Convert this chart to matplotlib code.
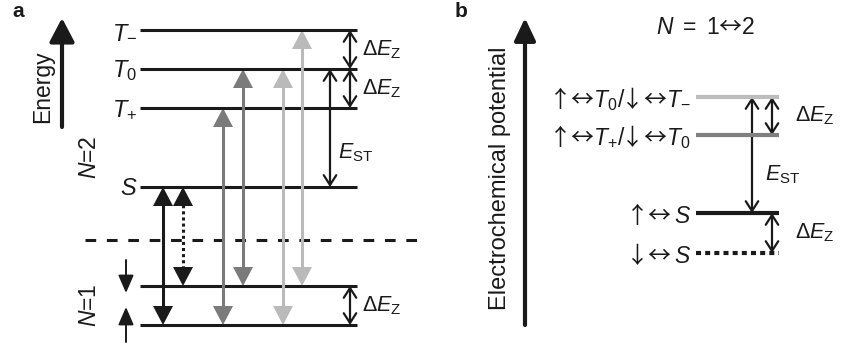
import matplotlib
matplotlib.use("Agg")
import matplotlib.pyplot as plt
from matplotlib.patches import FancyArrowPatch

plt.rcParams['font.family'] = ['Liberation Sans', 'DejaVu Sans']
plt.rcParams['mathtext.fontset'] = 'custom'
plt.rcParams['mathtext.rm'] = 'Liberation Sans'
plt.rcParams['mathtext.it'] = 'Liberation Sans:italic'
plt.rcParams['mathtext.bf'] = 'Liberation Sans:bold'
plt.rcParams['mathtext.sf'] = 'Noto Sans CJK JP'

# ---------------- data (energies, arbitrary units) ----------------
# panel a: N=1 spin states and N=2 two-electron states
n1_names = ['up', 'down']
n1_energy = [0, 39]
n2_names = ['S', 'T+', 'T0', 'T-']
n2_labels = [r'$S$', r'$T_{+}$', r'$T_{0}$', r'$T_{-}$']
n2_energy = [138, 217, 256, 295]
fermi_level = 85

# transitions (from N=2 state, to N=1 state, colour, style)
trans_from = ['S', 'S', 'T+', 'T0', 'T0', 'T-']
trans_to = ['up', 'down', 'up', 'down', 'up', 'down']
trans_color = ['#1a1a1a', '#1a1a1a', '#7b7b7b', '#7b7b7b', '#bababa', '#bababa']
trans_style = ['-', ':', '-', '-', '-', '-']

# panel b: electrochemical potentials for N = 1<->2
b_labels = [r'$\mathsf{↓↔}\,S$', r'$\mathsf{↑↔}\,S$',
            r'$\mathsf{↑↔}T_{+}\mathrm{/}\!\mathsf{↓↔}T_{0}$',
            r'$\mathsf{↑↔}T_{0}\mathrm{/}\!\mathsf{↓↔}T_{-}$']
b_energy = [72, 112, 190, 228]
b_color = ['#1a1a1a', '#1a1a1a', '#808080', '#bdbdbd']
b_style = ['dotted', '-', '-', '-']

E1 = dict(zip(n1_names, n1_energy))
E2 = dict(zip(n2_names, n2_energy))

fig = plt.figure(figsize=(8.44, 3.47), dpi=100)
ax = fig.add_axes([0, 0, 1, 1])
ax.set_xlim(0, 844)
ax.set_ylim(-22, 325)
ax.axis('off')

K = '#1a1a1a'


def filled_double(x, y0, y1, color, ls='-', hl=19, hw=10, lw=2.2):
    lo, hi = min(y0, y1), max(y0, y1)
    ax.plot([x, x], [lo + hl * 0.6, hi - hl * 0.6], color=color, lw=lw,
            ls=ls if ls == '-' else (0, (1, 1)), solid_capstyle='butt',
            dash_capstyle='butt')
    for a, b in ((lo, hi), (hi, lo)):
        ax.add_patch(FancyArrowPatch((x, a), (x, b),
                                     arrowstyle=f'-|>,head_length={hl/1.389:.2f},head_width={hw/1.389:.2f}',
                                     lw=0, color=color, shrinkA=0, shrinkB=0,
                                     mutation_scale=1))


def open_double(x, y0, y1, lw=1.6):
    ax.add_patch(FancyArrowPatch((x, y0), (x, y1),
                                 arrowstyle='<->,head_length=7,head_width=4.5',
                                 lw=lw, color=K, shrinkA=0, shrinkB=0,
                                 mutation_scale=1))


def up_arrow(x, y0, y1, lw, hl, hw):
    ax.add_patch(FancyArrowPatch((x, y0), (x, y1),
                                 arrowstyle=f'-|>,head_length={hl/1.389:.2f},head_width={hw/1.389:.2f}',
                                 lw=lw, color=K, shrinkA=0, shrinkB=0,
                                 mutation_scale=1))


# ---------------- panel a ----------------
ax.text(12, 314, 'a', fontsize=15, fontweight='bold', ha='left', va='center', color=K)
up_arrow(62, 198, 307, 3.0, 20, 10.5)
ax.text(43, 238, 'Energy', rotation=90, fontsize=16.5, ha='center', va='center', color=K)

xa0, xa1 = 140, 357
for name, e in zip(n1_names, n1_energy):
    ax.plot([xa0, xa1], [e, e], color=K, lw=2.2, solid_capstyle='butt')
for lab, e in zip(n2_labels, n2_energy):
    ax.plot([xa0, xa1], [e, e], color=K, lw=2.2, solid_capstyle='butt')
    ax.text(xa0 - 3, e - 2, lab, fontsize=17, ha='right', va='center', color=K)

ax.plot([85, 418], [fermi_level, fermi_level], color=K, lw=2.2, ls=(0, (3.5, 3.5)))

ax.text(89, 168, r'$N$=2', rotation=90, fontsize=16.5, ha='center', va='center', color=K)
ax.text(90, 20, r'$N$=1', rotation=90, fontsize=16.5, ha='center', va='center', color=K)

# spin arrows
up_arrow(126, 65, 32, 1.4, 15, 6.5)
up_arrow(126, -17, 18, 1.4, 15, 6.5)

trans_x = [163, 183, 223, 243, 283, 302]
for x, f, t, c, s in zip(trans_x, trans_from, trans_to, trans_color, trans_style):
    filled_double(x, E1[t], E2[f], c, s)

open_double(350, E2['T0'], E2['T-'])
open_double(350, E2['T+'], E2['T0'])
open_double(330, E2['S'], E2['T0'])
open_double(350, E1['up'], E1['down'])
ax.text(362, (E2['T0'] + E2['T-']) / 2, r'Δ$E_{\mathrm{Z}}$', fontsize=15.5, ha='left', va='center', color=K)
ax.text(362, (E2['T+'] + E2['T0']) / 2, r'Δ$E_{\mathrm{Z}}$', fontsize=15.5, ha='left', va='center', color=K)
ax.text(338, 172, r'$E_{\mathrm{ST}}$', fontsize=15.5, ha='left', va='center', color=K)
ax.text(362, (E1['up'] + E1['down']) / 2, r'Δ$E_{\mathrm{Z}}$', fontsize=15.5, ha='left', va='center', color=K)

# ---------------- panel b ----------------
ax.text(455, 314, 'b', fontsize=15, fontweight='bold', ha='left', va='center', color=K)
up_arrow(525, 0, 307, 3.0, 19, 9)
ax.text(500, 147, 'Electrochemical potential', rotation=90, fontsize=17,
        ha='center', va='center', color=K)
ax.text(706, 298, r'$N\ \mathrm{=\ 1}\mathsf{↔}\mathrm{2}$', fontsize=16.5, ha='center', va='center', color=K)

xb0, xb1 = 696, 779
for lab, e, c, s in zip(b_labels, b_energy, b_color, b_style):
    ax.plot([xb0, xb1], [e, e], color=c, lw=3.0,
            ls=(0, (1.2, 1.0)) if s == 'dotted' else '-', solid_capstyle='butt',
            dash_capstyle='butt')
    ax.text(xb0 - 5, e - 2, lab, fontsize=16.5, ha='right', va='center', color=K)

open_double(752, b_energy[1], b_energy[3])
open_double(772, b_energy[2], b_energy[3])
open_double(772, b_energy[0], b_energy[1])
ax.text(765, 150, r'$E_{\mathrm{ST}}$', fontsize=15.5, ha='left', va='center', color=K)
ax.text(795, (b_energy[2] + b_energy[3]) / 2, r'Δ$E_{\mathrm{Z}}$', fontsize=15.5, ha='left', va='center', color=K)
ax.text(795, (b_energy[0] + b_energy[1]) / 2, r'Δ$E_{\mathrm{Z}}$', fontsize=15.5, ha='left', va='center', color=K)

fig.savefig('out.png', dpi=100)
